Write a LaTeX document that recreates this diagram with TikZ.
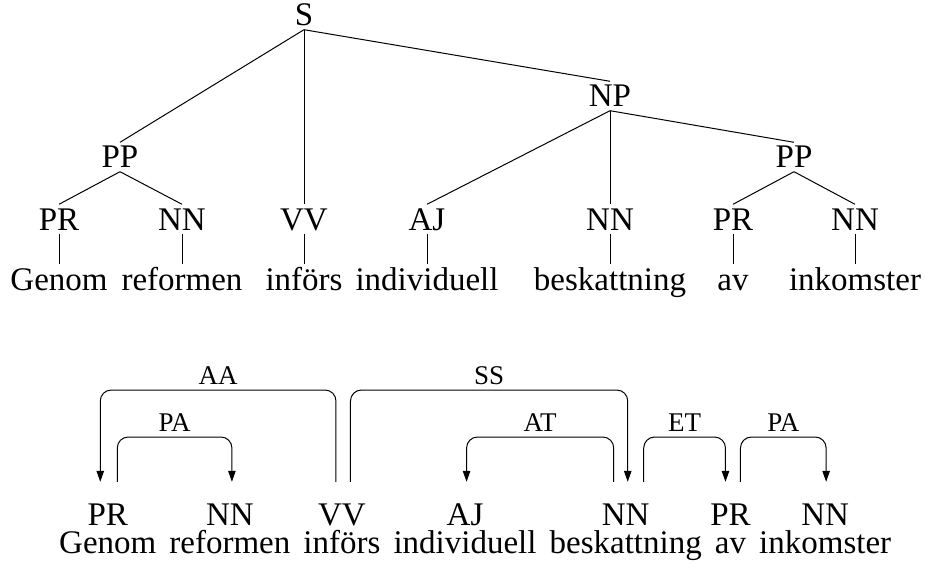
\documentclass[tikz,border=0pt]{standalone}
\usepackage{fontspec}
\setmainfont{Liberation Serif}
\usetikzlibrary{arrows.meta}
\begin{document}
\begin{tikzpicture}[x=1pt,y=-1pt,
  tag/.style={font=\fontsize{33}{36}\selectfont, inner xsep=0pt, inner ysep=3.5pt,
              text height=22pt, text depth=0pt, anchor=base},
  word/.style={font=\fontsize{33}{36}\selectfont, inner xsep=0pt, inner ysep=3.5pt,
               text height=22pt, text depth=7pt, anchor=base},
  dtag/.style={tag, inner ysep=0pt},
  dword/.style={word, inner ysep=0pt, text depth=6pt},
  branch/.style={line width=1pt},
  dep/.style={line width=1pt, rounded corners=11pt, -{Triangle[length=11pt,width=7.5pt]}},
  deplabel/.style={font=\fontsize{27}{30}\selectfont, anchor=base, yshift=5.5pt, inner sep=0pt}
]
\useasboundingbox (0,0) rectangle (926,564);

% ---------- constituent tree ----------
\node[tag] (S)   at (304,26)  {S};
\node[tag] (NP)  at (610,107) {NP};
\node[tag] (PPa) at (120,168) {PP};
\node[tag] (PPb) at (794,168) {PP};

\node[tag] (PRa) at (59,230)  {PR};
\node[tag] (NNa) at (182,230) {NN};
\node[tag] (VVa) at (304,230) {VV};
\node[tag] (AJa) at (427,230) {AJ};
\node[tag] (NNb) at (610,230) {NN};
\node[tag] (PRb) at (733,230) {PR};
\node[tag] (NNc) at (855,230) {NN};

\node[word] (w1) at (59,290)  {Genom};
\node[word] (w2) at (182,290) {reformen};
\node[word] (w3) at (304,290) {införs};
\node[word] (w4) at (427,290) {individuell};
\node[word] (w5) at (610,290) {beskattning};
\node[word] (w6) at (733,290) {av};
\node[word] (w7) at (855,290) {inkomster};

\draw[branch] (S.south) -- (PPa.north);
\draw[branch] (S.south) -- (VVa.north);
\draw[branch] (S.south) -- (NP.north);
\draw[branch] (NP.south) -- (AJa.north);
\draw[branch] (NP.south) -- (NNb.north);
\draw[branch] (NP.south) -- (PPb.north);
\draw[branch] (PPa.south) -- (PRa.north);
\draw[branch] (PPa.south) -- (NNa.north);
\draw[branch] (PPb.south) -- (PRb.north);
\draw[branch] (PPb.south) -- (NNc.north);
\foreach \t/\w in {PRa/w1, NNa/w2, VVa/w3, AJa/w4, NNb/w5, PRb/w6, NNc/w7}
  \draw[branch] (\t.south) -- (\w.north);

% ---------- dependency structure ----------
\node[dword, anchor=base west] (d1) at (59,553) {Genom};
\node[dword, anchor=base west] (d2) at ([xshift=12.7pt]d1.base east) {reformen};
\node[dword, anchor=base west] (d3) at ([xshift=12.7pt]d2.base east) {införs};
\node[dword, anchor=base west] (d4) at ([xshift=12.7pt]d3.base east) {individuell};
\node[dword, anchor=base west] (d5) at ([xshift=12.7pt]d4.base east) {beskattning};
\node[dword, anchor=base west] (d6) at ([xshift=12.7pt]d5.base east) {av};
\node[dword, anchor=base west] (d7) at ([xshift=12.7pt]d6.base east) {inkomster};

\node[dtag] (t1) at ([yshift=28pt]d1.base) {PR};
\node[dtag] (t2) at ([yshift=28pt]d2.base) {NN};
\node[dtag] (t3) at ([yshift=28pt]d3.base) {VV};
\node[dtag] (t4) at ([yshift=28pt]d4.base) {AJ};
\node[dtag] (t5) at ([yshift=28pt]d5.base) {NN};
\node[dtag] (t6) at ([yshift=28pt]d6.base) {PR};
\node[dtag] (t7) at ([yshift=28pt]d7.base) {NN};

% heights of the arc tops
\coordinate (hi) at (0,390);
\coordinate (lo) at (0,437);

% arc end points above the tags
\coordinate (aaS) at ([shift={(-6pt,21pt)}]t3.north);
\coordinate (aaE) at ([shift={(-7.5pt,21pt)}]t1.north);
\coordinate (paS) at ([shift={(9.5pt,21pt)}]t1.north);
\coordinate (paE) at ([shift={(2pt,21pt)}]t2.north);
\coordinate (ssS) at ([shift={(8.5pt,21pt)}]t3.north);
\coordinate (ssE) at ([shift={(2pt,21pt)}]t5.north);
\coordinate (atS) at ([shift={(-12pt,21pt)}]t5.north);
\coordinate (atE) at ([shift={(1.5pt,21pt)}]t4.north);
\coordinate (etS) at ([shift={(18pt,21pt)}]t5.north);
\coordinate (etE) at ([shift={(-5pt,21pt)}]t6.north);
\coordinate (pbS) at ([shift={(10pt,21pt)}]t6.north);
\coordinate (pbE) at ([shift={(1pt,21pt)}]t7.north);

\draw[dep] (aaS) -- (aaS |- hi) -- node[deplabel] {AA} (aaE |- hi) -- (aaE);
\draw[dep] (paS) -- (paS |- lo) -- node[deplabel] {PA} (paE |- lo) -- (paE);
\draw[dep] (ssS) -- (ssS |- hi) -- node[deplabel] {SS} (ssE |- hi) -- (ssE);
\draw[dep] (atS) -- (atS |- lo) -- node[deplabel] {AT} (atE |- lo) -- (atE);
\draw[dep] (etS) -- (etS |- lo) -- node[deplabel] {ET} (etE |- lo) -- (etE);
\draw[dep] (pbS) -- (pbS |- lo) -- node[deplabel] {PA} (pbE |- lo) -- (pbE);
\end{tikzpicture}
\end{document}
